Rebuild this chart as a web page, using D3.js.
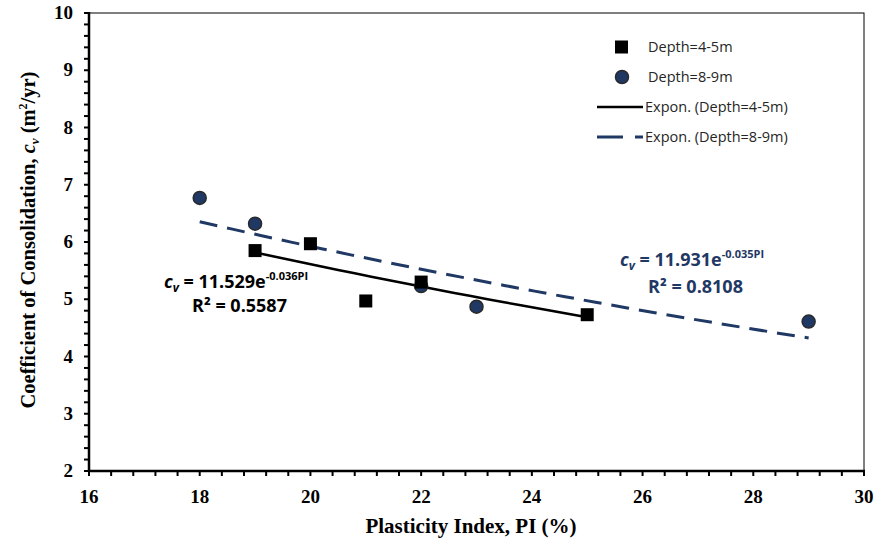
<!DOCTYPE html>
<html>
<head>
<meta charset="utf-8">
<script src="https://cdn.jsdelivr.net/npm/d3@7/dist/d3.min.js"></script>
<style>
  body { margin: 0; background: #fff; }
  svg { display: block; }
</style>
</head>
<body>
<div class="chart"></div>
<script>
// ======================================
// data
// ======================================
var piShallow = [19, 20, 21, 22, 25];
var cvShallow = [5.85, 5.97, 4.97, 5.30, 4.73];

var piDeep = [18, 19, 22, 23, 29];
var cvDeep = [6.77, 6.32, 5.23, 4.87, 4.61];

// exponential trendlines cv = a * exp(b * PI), shown on the chart
var fitShallow = [11.529, -0.036];
var fitDeep = [11.931, -0.035];

var xTicks = [16, 18, 20, 22, 24, 26, 28, 30];
var yTicks = [2, 3, 4, 5, 6, 7, 8, 9, 10];

var legendLabels = ['Depth=4-5m', 'Depth=8-9m', 'Expon. (Depth=4-5m)', 'Expon. (Depth=8-9m)'];

// ======================================
// sizes
// ======================================
var W = 880, H = 544;
var plot = { left: 89, right: 864, top: 13, bottom: 471 };
var navy = '#1f3864';
var serif = '"Liberation Serif", "Times New Roman", serif';
var sans = '"Open Sans", Lato, sans-serif';

var svg = d3.select('.chart')
   .append('svg')
   .attr('width', W)
   .attr('height', H);

var x = d3.scaleLinear().domain([16, 30]).range([plot.left, plot.right]);
var y = d3.scaleLinear().domain([2, 10]).range([plot.bottom, plot.top]);

// ======================================
// frame
// ======================================
svg.append('rect')
   .attr('x', plot.left).attr('y', plot.top)
   .attr('width', plot.right - plot.left).attr('height', plot.bottom - plot.top)
   .attr('fill', 'none').attr('stroke', '#000').attr('stroke-width', 1);

// minor ticks
var xMinor = d3.range(16, 30.001, 0.4);
var yMinor = d3.range(2, 10.001, 0.2);

svg.append('g').selectAll('line').data(xMinor).enter().append('line')
   .attr('x1', function(d){ return x(d); }).attr('x2', function(d){ return x(d); })
   .attr('y1', plot.bottom).attr('y2', plot.bottom + 5)
   .attr('stroke', '#000').attr('stroke-width', 2);

svg.append('g').selectAll('line').data(yMinor).enter().append('line')
   .attr('y1', function(d){ return y(d); }).attr('y2', function(d){ return y(d); })
   .attr('x1', plot.left - 5).attr('x2', plot.left)
   .attr('stroke', '#000').attr('stroke-width', 2);

// axes lines (heavier)
svg.append('line')
   .attr('x1', plot.left).attr('x2', plot.right + 1)
   .attr('y1', plot.bottom).attr('y2', plot.bottom)
   .attr('stroke', '#000').attr('stroke-width', 2.5);
svg.append('line')
   .attr('x1', plot.left).attr('x2', plot.left)
   .attr('y1', plot.top - 1).attr('y2', plot.bottom)
   .attr('stroke', '#000').attr('stroke-width', 2.5);

// tick labels
svg.append('g').selectAll('text').data(xTicks).enter().append('text')
   .text(function(d){ return d; })
   .attr('x', function(d){ return x(d); })
   .attr('y', 503)
   .attr('text-anchor', 'middle')
   .attr('font-family', serif).attr('font-weight', 'bold').attr('font-size', '19px');

svg.append('g').selectAll('text').data(yTicks).enter().append('text')
   .text(function(d){ return d; })
   .attr('x', 73)
   .attr('y', function(d){ return y(d) + 6; })
   .attr('text-anchor', 'end')
   .attr('font-family', serif).attr('font-weight', 'bold').attr('font-size', '19px');

// axis titles
svg.append('text')
   .text('Plasticity Index, PI (%)')
   .attr('x', 471)
   .attr('y', 533)
   .attr('text-anchor', 'middle')
   .attr('font-family', serif).attr('font-weight', 'bold').attr('font-size', '21px');

var yTitle = svg.append('text')
   .attr('transform', 'translate(35,240) rotate(-90)')
   .attr('text-anchor', 'middle')
   .attr('font-family', serif).attr('font-weight', 'bold').attr('font-size', '20.5px');
yTitle.append('tspan').text('Coefficient of Consolidation, ');
yTitle.append('tspan').text('c').attr('font-style', 'italic');
yTitle.append('tspan').text('v').attr('font-style', 'italic').attr('font-size', '13px').attr('dy', 4);
yTitle.append('tspan').text(' (m').attr('dy', -4);
yTitle.append('tspan').text('2').attr('font-size', '12px').attr('dy', -8);
yTitle.append('tspan').text('/yr)').attr('dy', 8);

// ======================================
// trendlines
// ======================================
function trend(fit, xs){
   var lo = d3.min(xs), hi = d3.max(xs);
   var pts = d3.range(lo, hi + 0.001, (hi - lo) / 20);
   return d3.line()
      .x(function(d){ return x(d); })
      .y(function(d){ return y(fit[0] * Math.exp(fit[1] * d)); })(pts);
}

svg.append('path')
   .attr('d', trend(fitShallow, piShallow))
   .attr('fill', 'none').attr('stroke', '#000').attr('stroke-width', 2.5);

svg.append('path')
   .attr('d', trend(fitDeep, piDeep))
   .attr('fill', 'none').attr('stroke', navy).attr('stroke-width', 3)
   .attr('stroke-dasharray', '18,10');

// ======================================
// points
// ======================================
var deepPts = piDeep.map(function(d, i){ return [d, cvDeep[i]]; });
var shallowPts = piShallow.map(function(d, i){ return [d, cvShallow[i]]; });

svg.append('g').selectAll('circle').data(deepPts).enter().append('circle')
   .attr('cx', function(d){ return x(d[0]); })
   .attr('cy', function(d){ return y(d[1]); })
   .attr('r', 6.5)
   .attr('fill', navy).attr('stroke', '#2a2a2a').attr('stroke-width', 1.5);

svg.append('g').selectAll('rect').data(shallowPts).enter().append('rect')
   .attr('x', function(d){ return x(d[0]) - 6.5; })
   .attr('y', function(d){ return y(d[1]) - 6.5; })
   .attr('width', 13).attr('height', 13)
   .attr('fill', '#000');

// ======================================
// equations
// ======================================
function equation(xPos, yPos, gap, color, a, b, r2){
   var t = svg.append('text')
      .attr('x', xPos).attr('y', yPos)
      .attr('font-family', sans).attr('font-weight', 'bold').attr('font-size', '18px')
      .attr('fill', color);
   t.append('tspan').text('c').attr('font-style', 'italic');
   t.append('tspan').text('v').attr('font-style', 'italic').attr('font-size', '12px').attr('dy', 4);
   t.append('tspan').text(' = ' + a + 'e').attr('dy', -4);
   t.append('tspan').text(b + 'PI').attr('font-size', '11px').attr('dy', -8);
   svg.append('text')
      .text('R\u00b2 = ' + r2)
      .attr('x', xPos + 28).attr('y', yPos + gap)
      .attr('font-family', sans).attr('font-weight', 'bold').attr('font-size', '18px')
      .attr('fill', color);
}
equation(164, 288, 24, '#000', '11.529', '-0.036', '0.5587');
equation(620, 266, 27, navy, '11.931', '-0.035', '0.8108');

// ======================================
// legend
// ======================================
var legend = svg.append('g');
var legY = [47, 77, 107, 137];

legend.append('rect').attr('x', 615).attr('y', legY[0] - 6.5).attr('width', 13).attr('height', 13).attr('fill', '#000');
legend.append('circle').attr('cx', 622).attr('cy', legY[1]).attr('r', 6.5)
   .attr('fill', navy).attr('stroke', '#2a2a2a').attr('stroke-width', 1.5);
legend.append('line').attr('x1', 597).attr('x2', 643).attr('y1', legY[2]).attr('y2', legY[2])
   .attr('stroke', '#000').attr('stroke-width', 2.5);
legend.append('line').attr('x1', 597).attr('x2', 643).attr('y1', legY[3]).attr('y2', legY[3])
   .attr('stroke', navy).attr('stroke-width', 3).attr('stroke-dasharray', '26,12');

legend.selectAll('text').data(legendLabels).enter().append('text')
   .text(function(d){ return d; })
   .attr('x', function(d, i){ return i < 2 ? 648 : 645; })
   .attr('y', function(d, i){ return legY[i] + 5; })
   .attr('font-family', sans).attr('font-size', '14.5px').attr('fill', '#262626');
</script>
</body>
</html>
